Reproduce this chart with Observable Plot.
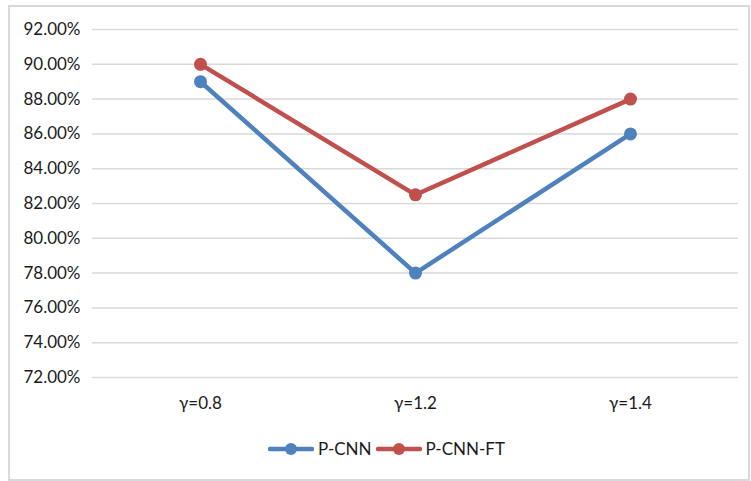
<!DOCTYPE html>
<html>
<head>
<meta charset="utf-8">
<script src="https://cdn.jsdelivr.net/npm/d3@7"></script>
<script src="https://cdn.jsdelivr.net/npm/@observablehq/plot@0.6"></script>
<style>
  body { margin: 0; background: #fff; }
  #wrap { position: relative; width: 751px; height: 481px; font-family: Lato, "Open Sans", sans-serif; }
  #frame { position: absolute; left: 8px; top: 5px; width: 738px; height: 472px; border: 2px solid #d9d9d9; pointer-events: none; }
  #chart { position: absolute; left: 0; top: 0; }
  #legend { position: absolute; left: 0; top: 438px; width: 751px; display: flex; justify-content: center; align-items: center; font-size: 17px; color: #1a1a1a; padding-left: 22px; box-sizing: border-box; }
  .item { display: flex; align-items: center; margin: 0 2px; }
  .item svg { margin-right: 4px; }
</style>
</head>
<body>
<div id="wrap">
  <div id="chart"></div>
  <div id="legend"></div>
  <div id="frame"></div>
</div>
<script>
const categories = ["γ=0.8", "γ=1.2", "γ=1.4"];
const seriesNames = ["P-CNN", "P-CNN-FT"];
const pcnn = [0.89, 0.78, 0.86];
const pcnnft = [0.90, 0.825, 0.88];
const yTicks = [0.72, 0.74, 0.76, 0.78, 0.80, 0.82, 0.84, 0.86, 0.88, 0.90, 0.92];
const colors = ["#4f81bd", "#c0504d"];

const data = [];
categories.forEach((c, i) => {
  data.push({cat: c, series: seriesNames[0], value: pcnn[i]});
  data.push({cat: c, series: seriesNames[1], value: pcnnft[i]});
});

const chart = Plot.plot({
  width: 751,
  height: 420,
  marginLeft: 92,
  marginRight: 13,
  marginTop: 29,
  marginBottom: 43,
  style: {fontFamily: "Lato, 'Open Sans', sans-serif", fontSize: "17px", color: "#1a1a1a", background: "transparent"},
  x: {type: "point", domain: categories, padding: 0.5, label: null},
  y: {domain: [0.72, 0.92], label: null},
  color: {domain: seriesNames, range: colors},
  marks: [
    Plot.ruleY(yTicks, {stroke: "#d9d9d9", strokeWidth: 1.5}),
    Plot.axisY({ticks: yTicks, tickSize: 0, tickPadding: 12, tickFormat: d => (d * 100).toFixed(2) + "%", fontSize: 17}),
    Plot.axisX({tickSize: 0, tickPadding: 19, fontSize: 17}),
    Plot.line(data, {x: "cat", y: "value", z: "series", stroke: "series", strokeWidth: 4.5}),
    Plot.dot(data, {x: "cat", y: "value", fill: "series", r: 6.5})
  ]
});
document.getElementById("chart").appendChild(chart);

const legend = document.getElementById("legend");
seriesNames.forEach((name, i) => {
  const item = document.createElement("div");
  item.className = "item";
  item.innerHTML = `<svg width="46" height="16"><line x1="2" y1="8" x2="44" y2="8" stroke="${colors[i]}" stroke-width="4.5" stroke-linecap="round"/><circle cx="23" cy="8" r="6" fill="${colors[i]}"/></svg><span>${name}</span>`;
  legend.appendChild(item);
});
</script>
</body>
</html>
